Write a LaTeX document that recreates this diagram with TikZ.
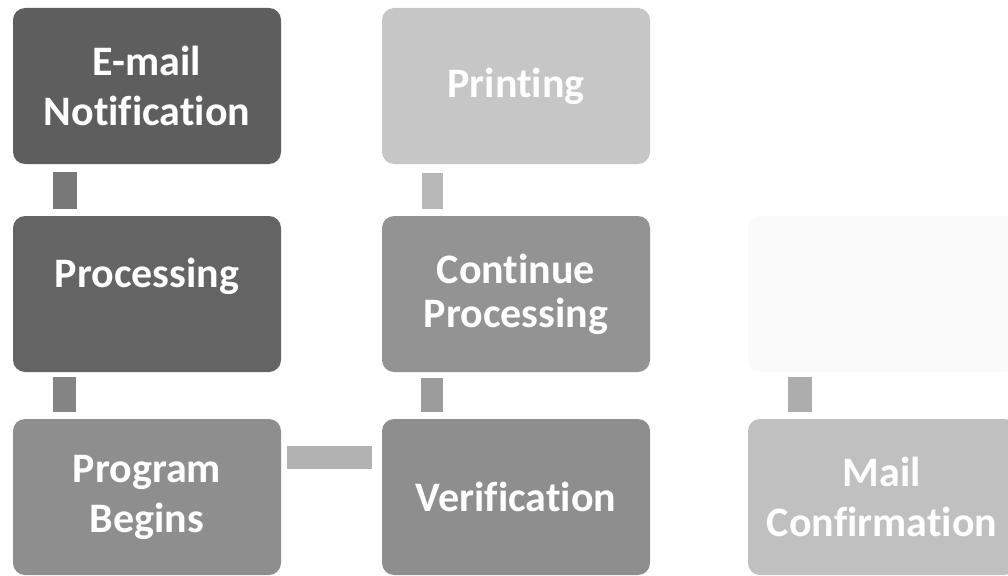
\documentclass[tikz,border=0pt]{standalone}
\usepackage{fontspec}
\setmainfont{Carlito}[Ligatures=NoCommon]
\usetikzlibrary{calc}
% stage fills, dark to light
\definecolor{stageA}{HTML}{5E5E5E}
\definecolor{stageB}{HTML}{646464}
\definecolor{stageC}{HTML}{8E8E8E}
\definecolor{stageD}{HTML}{939393}
\definecolor{stageE}{HTML}{C6C6C6}
\definecolor{stageF}{HTML}{FAFAFA}
\definecolor{stageG}{HTML}{C0C0C0}
% connector fills
\definecolor{linkA}{HTML}{787878}
\definecolor{linkB}{HTML}{848484}
\definecolor{linkC}{HTML}{B2B2B2}
\definecolor{linkD}{HTML}{9C9C9C}
\definecolor{linkE}{HTML}{B8B8B8}
\definecolor{linkF}{HTML}{ADADAD}
\begin{document}
\begin{tikzpicture}[x=1pt,y=1pt,
  stage/.style={rounded corners=12pt, minimum width=268pt, minimum height=156pt,
    inner sep=0pt, text=white, align=center,
    font=\bfseries\fontsize{42}{50}\selectfont},
  tight/.style={font=\bfseries\fontsize{42}{44}\selectfont},
]
\useasboundingbox (0,0) rectangle (1008,-575);

% column 1
\node[stage, fill=stageA] (email) at (147,-86)  {E-mail\\Notification};
\node[stage, fill=stageB] (proc)  at (147,-294) {\raisebox{7pt}[0pt][0pt]{Processing}};
\node[stage, fill=stageC] (prog)  at (147,-497) {Program\\Begins};
% column 2
\node[stage, fill=stageC] (verif) at (516,-497) {Verification};
\node[stage, tight, fill=stageD] (cont) at (516,-294) {Continue\\Processing};
\node[stage, fill=stageE] (print) at (516,-86)  {Printing};
% column 3
\node[stage, fill=stageF] (blank) at (882,-294) {};
\node[stage, fill=stageG] (mail)  at (882,-497) {Mail\\Confirmation};

% connectors between stages
\fill[linkA] ($(email.south west)+(40,-8)$) rectangle ($(proc.north west)+(64,7)$);
\fill[linkB] ($(proc.south west)+(40,-5)$)  rectangle ($(prog.north west)+(63,7)$);
\fill[linkC] ($(prog.north east)+(6,-27)$)  rectangle ($(verif.north west)+(-10,-50)$);
\fill[linkD] ($(verif.north west)+(39,7)$)  rectangle ($(cont.south west)+(61,-6)$);
\fill[linkE] ($(cont.north west)+(40,7)$)   rectangle ($(print.south west)+(61,-9)$);
\fill[linkF] ($(mail.north west)+(40,7)$)   rectangle ($(blank.south west)+(64,-5)$);
\end{tikzpicture}
\end{document}
